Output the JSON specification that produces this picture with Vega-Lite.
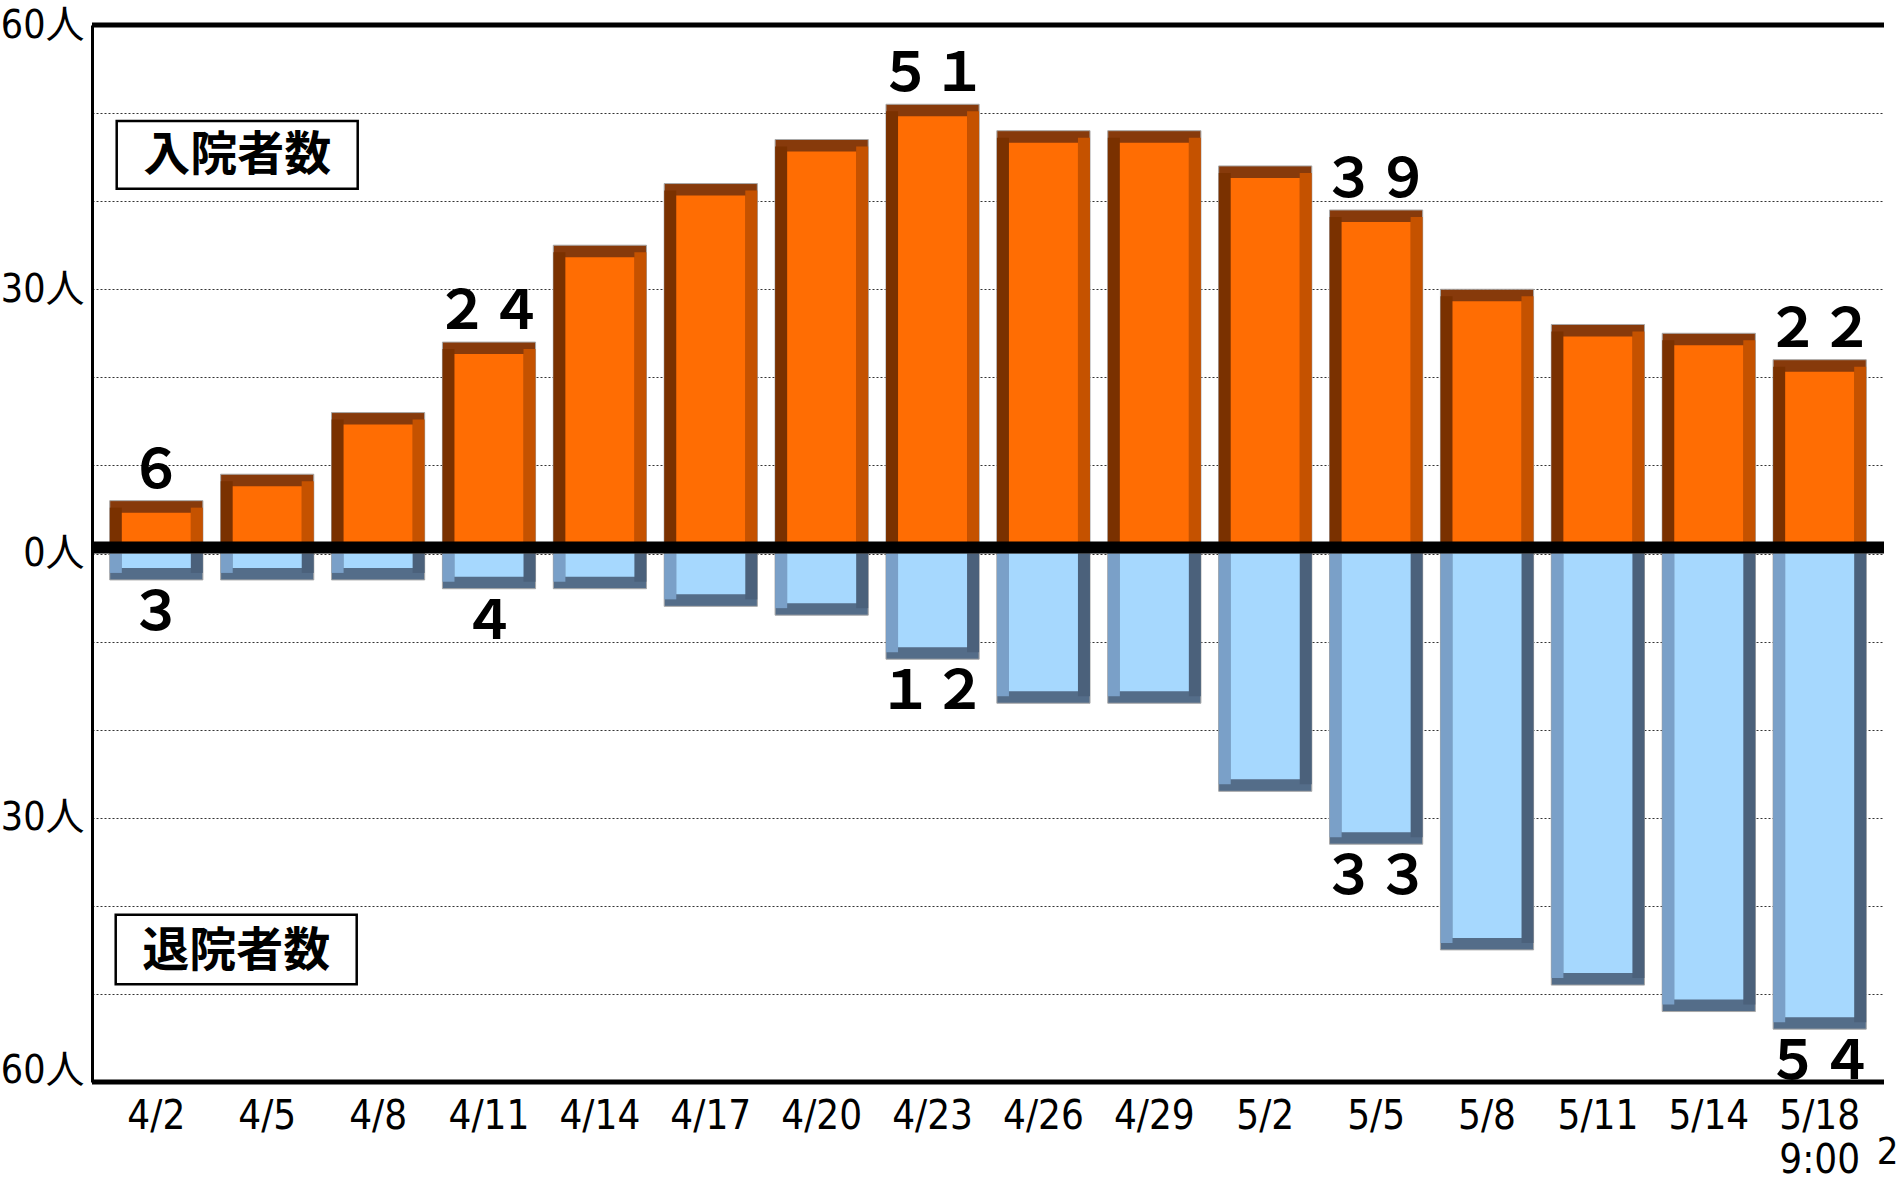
{
  "$schema": "https://vega.github.io/schema/vega-lite/v6.json",
  "width": 1792,
  "height": 1057,
  "autosize": {"type": "none"},
  "padding": {"left": 92, "top": 25, "right": 19, "bottom": 99},
  "background": "white",
  "config": {"view": {"stroke": null}},
  "data": {"values": [
    {"date": "4/2", "admit": 6, "discharge": -3, "admit_label": "６", "discharge_label": "３"},
    {"date": "4/5", "admit": 9, "discharge": -3},
    {"date": "4/8", "admit": 16, "discharge": -3},
    {"date": "4/11", "admit": 24, "discharge": -4, "admit_label": "２４", "discharge_label": "４"},
    {"date": "4/14", "admit": 35, "discharge": -4},
    {"date": "4/17", "admit": 42, "discharge": -6},
    {"date": "4/20", "admit": 47, "discharge": -7},
    {"date": "4/23", "admit": 51, "discharge": -12, "admit_label": "５１", "discharge_label": "１２"},
    {"date": "4/26", "admit": 48, "discharge": -17},
    {"date": "4/29", "admit": 48, "discharge": -17},
    {"date": "5/2", "admit": 44, "discharge": -27},
    {"date": "5/5", "admit": 39, "discharge": -33, "admit_label": "３９", "discharge_label": "３３"},
    {"date": "5/8", "admit": 30, "discharge": -45},
    {"date": "5/11", "admit": 26, "discharge": -49},
    {"date": "5/14", "admit": 25, "discharge": -52},
    {"date": "5/18", "admit": 22, "discharge": -54, "admit_label": "２２", "discharge_label": "５４"}
  ]},
  "layer": [
    {
      "mark": {"type": "bar", "fill": "#873a0b", "stroke": "#a8a8a8", "strokeWidth": 1},
      "encoding": {
        "x": {
          "field": "date",
          "type": "nominal",
          "sort": null,
          "scale": {
            "domain": ["4/2", "4/5", "4/8", "4/11", "4/14", "4/17", "4/20", "4/23", "4/26", "4/29", "5/2", "5/5", "5/8", "5/11", "5/14", "5/18"],
            "paddingInner": 0.16,
            "paddingOuter": 0.16
          },
          "axis": {
            "title": null,
            "domain": false,
            "ticks": false,
            "grid": false,
            "labelAngle": 0,
            "labelFont": "Liberation Sans Narrow, DejaVu Sans Condensed, Noto Sans CJK JP",
            "labelFontSize": 40,
            "labelColor": "black",
            "labelPadding": 14,
            "labelOverlap": false,
            "labelLineHeight": 44,
            "labelExpr": "datum.value == '5/18' ? ['5/18', '9:00'] : datum.value"
          }
        },
        "y": {
          "field": "admit",
          "type": "quantitative",
          "scale": {"domain": [-60, 60], "nice": false, "zero": true},
          "axis": {
            "title": null,
            "values": [-60, -50, -40, -30, -20, -10, 0, 10, 20, 30, 40, 50, 60],
            "labelExpr": "datum.value % 30 == 0 ? abs(datum.value) + '人' : ''",
            "grid": true,
            "gridColor": "#333333",
            "gridDash": [2, 2],
            "gridWidth": 1,
            "domain": true,
            "domainColor": "black",
            "domainWidth": 3,
            "ticks": false,
            "labelFont": "Liberation Sans Narrow, DejaVu Sans Condensed, Noto Sans CJK JP",
            "labelFontSize": 39,
            "labelColor": "black",
            "labelPadding": 8,
            "labelOverlap": false,
            "labelBaseline": {"condition": {"test": "datum.value == -60", "value": "alphabetic"}, "value": "middle"}
          }
        },
        "y2": {"datum": 0}
      }
    },
    {
      "mark": {"type": "bar", "fill": "#7a3100", "width": 12, "xOffset": -40.5, "yOffset": 7},
      "encoding": {"x": {"field": "date", "type": "nominal", "sort": null}, "y": {"field": "admit", "type": "quantitative"}, "y2": {"datum": 0}}
    },
    {
      "mark": {"type": "bar", "fill": "#c55200", "width": 12, "xOffset": 40.5, "yOffset": 7},
      "encoding": {"x": {"field": "date", "type": "nominal", "sort": null}, "y": {"field": "admit", "type": "quantitative"}, "y2": {"datum": 0}}
    },
    {
      "mark": {"type": "bar", "fill": "#ff6d03", "width": 69, "yOffset": 12},
      "encoding": {"x": {"field": "date", "type": "nominal", "sort": null}, "y": {"field": "admit", "type": "quantitative"}, "y2": {"datum": 0}}
    },
    {
      "mark": {"type": "bar", "fill": "#546d89", "stroke": "#a8a8a8", "strokeWidth": 1},
      "encoding": {"x": {"field": "date", "type": "nominal", "sort": null}, "y": {"field": "discharge", "type": "quantitative"}, "y2": {"datum": 0}}
    },
    {
      "mark": {"type": "bar", "fill": "#7aa0c8", "width": 12, "xOffset": -40.5, "yOffset": -7},
      "encoding": {"x": {"field": "date", "type": "nominal", "sort": null}, "y": {"field": "discharge", "type": "quantitative"}, "y2": {"datum": 0}}
    },
    {
      "mark": {"type": "bar", "fill": "#4b617b", "width": 12, "xOffset": 40.5, "yOffset": -7},
      "encoding": {"x": {"field": "date", "type": "nominal", "sort": null}, "y": {"field": "discharge", "type": "quantitative"}, "y2": {"datum": 0}}
    },
    {
      "mark": {"type": "bar", "fill": "#a6d8fe", "width": 69, "yOffset": -12},
      "encoding": {"x": {"field": "date", "type": "nominal", "sort": null}, "y": {"field": "discharge", "type": "quantitative"}, "y2": {"datum": 0}}
    },
    {
      "transform": [{"filter": "isValid(datum.admit_label)"}],
      "mark": {"type": "text", "font": "Noto Sans CJK JP", "fontSize": 54, "fontWeight": "bold", "baseline": "alphabetic", "align": "center", "dy": -13, "color": "black"},
      "encoding": {"x": {"field": "date", "type": "nominal", "sort": null}, "y": {"field": "admit", "type": "quantitative"}, "text": {"field": "admit_label"}}
    },
    {
      "transform": [{"filter": "isValid(datum.discharge_label)"}],
      "mark": {"type": "text", "font": "Noto Sans CJK JP", "fontSize": 54, "fontWeight": "bold", "baseline": "alphabetic", "align": "center", "dy": 50, "color": "black"},
      "encoding": {"x": {"field": "date", "type": "nominal", "sort": null}, "y": {"field": "discharge", "type": "quantitative"}, "text": {"field": "discharge_label"}}
    },
    {
      "data": {"values": [{}]},
      "mark": {"type": "rule", "color": "black", "strokeWidth": 12, "yOffset": -6},
      "encoding": {"y": {"datum": 0, "type": "quantitative"}}
    },
    {
      "data": {"values": [{}]},
      "mark": {"type": "rule", "color": "black", "strokeWidth": 5},
      "encoding": {"y": {"datum": 60, "type": "quantitative"}}
    },
    {
      "data": {"values": [{}]},
      "mark": {"type": "rule", "color": "black", "strokeWidth": 5},
      "encoding": {"y": {"datum": -60, "type": "quantitative"}}
    },
    {
      "data": {"values": [{"label": "入院者数"}]},
      "mark": {"type": "bar", "fill": "white", "stroke": "black", "strokeWidth": 2.5, "width": 241, "xOffset": -30},
      "encoding": {
        "x": {"datum": "4/5", "type": "nominal"},
        "y": {"datum": 49.1, "type": "quantitative"},
        "y2": {"datum": 41.4}
      }
    },
    {
      "data": {"values": [{"label": "入院者数"}]},
      "mark": {"type": "text", "font": "Noto Sans CJK JP", "fontSize": 47, "fontWeight": "bold", "align": "center", "baseline": "middle", "dx": -30, "color": "black"},
      "encoding": {
        "x": {"datum": "4/5", "type": "nominal"},
        "y": {"datum": 45.1, "type": "quantitative"},
        "text": {"field": "label"}
      }
    },
    {
      "data": {"values": [{"label": "退院者数"}]},
      "mark": {"type": "bar", "fill": "white", "stroke": "black", "strokeWidth": 2.5, "width": 241, "xOffset": -31},
      "encoding": {
        "x": {"datum": "4/5", "type": "nominal"},
        "y": {"datum": -41.0, "type": "quantitative"},
        "y2": {"datum": -48.9}
      }
    },
    {
      "data": {"values": [{"label": "退院者数"}]},
      "mark": {"type": "text", "font": "Noto Sans CJK JP", "fontSize": 47, "fontWeight": "bold", "align": "center", "baseline": "middle", "dx": -31, "color": "black"},
      "encoding": {
        "x": {"datum": "4/5", "type": "nominal"},
        "y": {"datum": -45.2, "type": "quantitative"},
        "text": {"field": "label"}
      }
    },
    {
      "data": {"values": [{"label": "2"}]},
      "mark": {"type": "text", "font": "Liberation Sans Narrow, DejaVu Sans Condensed, Noto Sans CJK JP", "fontSize": 38, "align": "left", "baseline": "alphabetic", "dx": 57, "dy": 82, "color": "black"},
      "encoding": {
        "x": {"datum": "5/18", "type": "nominal"},
        "y": {"datum": -60, "type": "quantitative"},
        "text": {"field": "label"}
      }
    }
  ]
}
